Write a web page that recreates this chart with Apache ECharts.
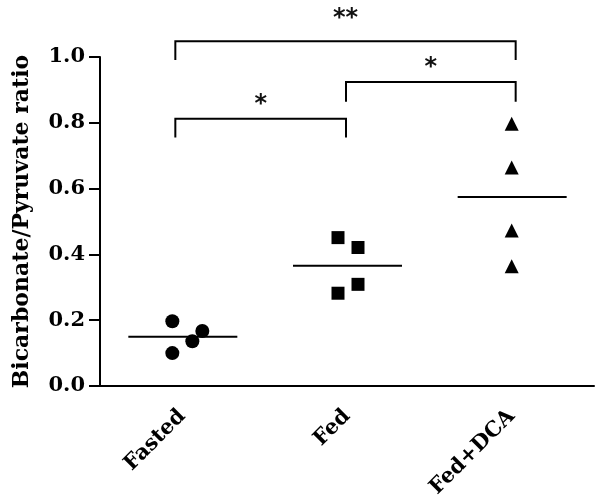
<!DOCTYPE html>
<html>
<head>
<meta charset="utf-8">
<script src="https://cdn.jsdelivr.net/npm/echarts@6/dist/echarts.min.js"></script>
<style>
  html, body { margin: 0; padding: 0; background: #fff; }
  #chart { width: 600px; height: 502px; }
</style>
</head>
<body>
<div id="chart"></div>
<script>
// groups on the x axis
var categories = ['Fasted', 'Fed', 'Fed+DCA']
// individual ratios per group
var fastedValues = [0.197, 0.167, 0.136, 0.100]
var fedValues = [0.451, 0.421, 0.309, 0.282]
var dcaValues = [0.797, 0.664, 0.473, 0.364]
// y ticks
var yTicks = [0, 0.2, 0.4, 0.6, 0.8, 1.0]
// significance brackets: [from group, to group, bracket height, leg bottom, label]
var brackets = [
  [0, 2, 1.048, 0.991, '**'],
  [1, 2, 0.924, 0.864, '*'],
  [0, 1, 0.812, 0.755, '*']
]

var groups = [fastedValues, fedValues, dcaValues]
var symbols = ['circle', 'rect', 'triangle']
// horizontal jitter in px, so points do not overlap
var jitter = [[-10, 20, 10, -10], [-9, 11, 11, -9], [0, 0, 0, 0]]
// bracket legs sit a little off the group centre
var legNudge = [-7, -1, 4]

function mean (arr) {
  var s = 0
  arr.forEach(function (v) { s += v })
  return s / arr.length
}

var font = 'DejaVu Serif'
var myChart = echarts.init(document.getElementById('chart'))

var series = groups.map(function (vals, gi) {
  return {
    name: categories[gi],
    type: 'scatter',
    symbol: symbols[gi],
    symbolSize: gi === 1 ? 13 : 14,
    itemStyle: { color: '#000', opacity: 1 },
    z: 3,
    data: vals.map(function (v, i) {
      return { value: [gi, v], symbolOffset: [jitter[gi][i], 0] }
    })
  }
})

// mean lines
series.push({
  type: 'custom',
  z: 2,
  data: groups.map(function (vals, gi) { return [gi, mean(vals)] }),
  renderItem: function (params, api) {
    var p = api.coord([api.value(0), api.value(1)])
    return {
      type: 'line',
      shape: { x1: p[0] - 54, y1: p[1], x2: p[0] + 55, y2: p[1] },
      style: { stroke: '#000', lineWidth: 2 }
    }
  }
})

// significance brackets
series.push({
  type: 'custom',
  clip: false,
  z: 2,
  data: brackets.map(function (b) { return [b[0], b[1], b[2], b[3]] }),
  renderItem: function (params, api) {
    var b = brackets[params.dataIndex]
    var a = api.coord([b[0], b[2]])
    var c = api.coord([b[1], b[2]])
    var leg = api.coord([b[0], b[3]])
    var xa = a[0] + legNudge[b[0]]
    var xc = c[0] + legNudge[b[1]]
    var gap = b[4].length > 1 ? 28 : 20
    return {
      type: 'group',
      children: [
        {
          type: 'polyline',
          shape: { points: [[xa, leg[1]], [xa, a[1]], [xc, c[1]], [xc, leg[1]]] },
          style: { stroke: '#000', lineWidth: 2, fill: null }
        },
        {
          type: 'text',
          x: (xa + xc) / 2,
          y: a[1] - gap + 6,
          style: {
            text: b[4],
            font: 'bold 24px "DejaVu Sans"',
            fill: '#111',
            align: 'center',
            verticalAlign: 'middle'
          }
        }
      ]
    }
  }
})

var option = {
  animation: false,
  grid: {
    left: 100,
    right: 6,
    top: 57,
    bottom: 116,
    containLabel: false
  },
  xAxis: {
    type: 'category',
    data: categories,
    boundaryGap: true,
    axisLine: { lineStyle: { color: '#000', width: 2 } },
    axisTick: { alignWithLabel: true, length: 10, lineStyle: { color: '#000', width: 2 } },
    axisLabel: {
      rotate: 45,
      margin: 27,
      color: '#000',
      fontFamily: font,
      fontWeight: 'bold',
      fontSize: 21
    },
    splitLine: { show: false }
  },
  yAxis: {
    type: 'value',
    min: yTicks[0],
    max: yTicks[yTicks.length - 1],
    interval: 0.2,
    name: 'Bicarbonate/Pyruvate ratio',
    nameLocation: 'middle',
    nameGap: 67,
    nameTextStyle: {
      color: '#000',
      fontFamily: font,
      fontWeight: 'bold',
      fontSize: 22
    },
    axisLine: { show: true, lineStyle: { color: '#000', width: 2 } },
    axisTick: { show: true, inside: false, length: 11, lineStyle: { color: '#000', width: 2 } },
    axisLabel: {
      margin: 15,
      color: '#000',
      fontFamily: font,
      fontWeight: 'bold',
      fontSize: 21,
      formatter: function (v) { return v.toFixed(1) }
    },
    splitLine: { show: false }
  },
  series: series
}

myChart.setOption(option)
</script>
</body>
</html>
